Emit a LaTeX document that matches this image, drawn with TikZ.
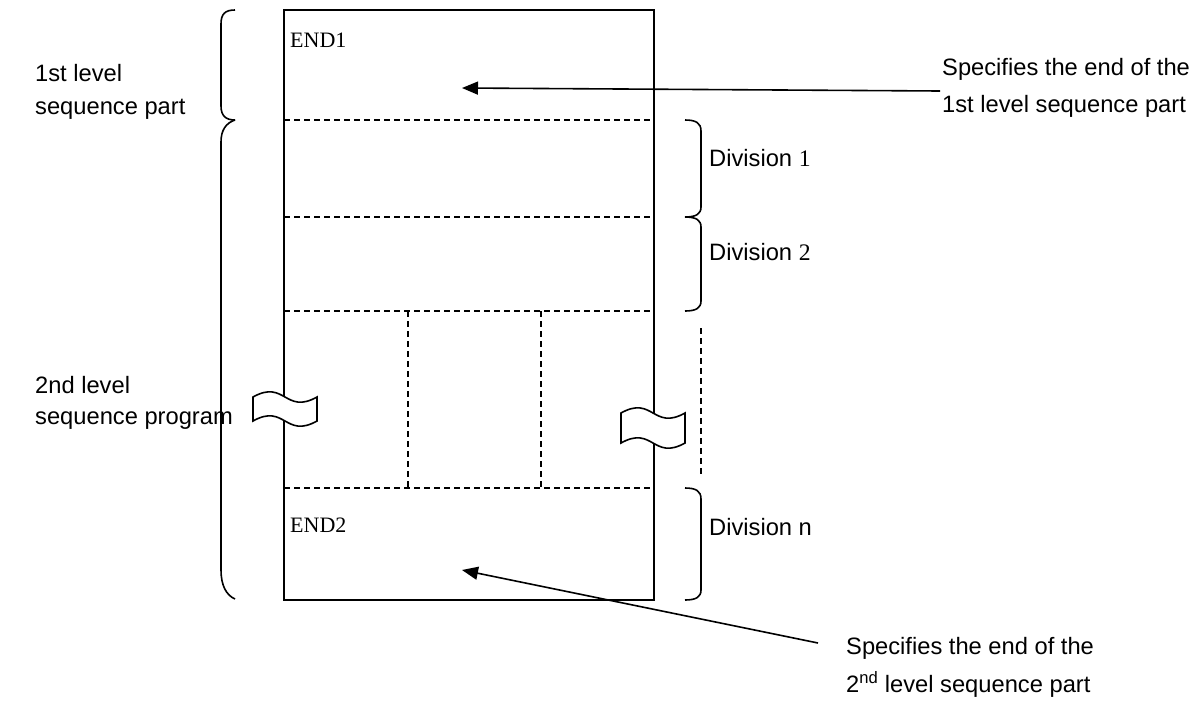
\documentclass[tikz,border=0pt]{standalone}
\usepackage{fontspec}
\setmainfont{Liberation Sans}
\newfontfamily\tms{Liberation Serif}
\usetikzlibrary{arrows.meta}
\begin{document}
\begin{tikzpicture}[x=1pt,y=-1pt,
  box/.style={line width=1.8pt},
  dsh/.style={line width=1.3pt,dash pattern=on 6pt off 4pt},
  brc/.style={line width=1.6pt},
  lbl/.style={anchor=west,inner sep=0pt,font=\fontsize{23.7}{28}\selectfont},
  slbl/.style={anchor=west,inner sep=0pt,font=\fontsize{22}{26}\tms},
  arr/.style={line width=1.6pt,-{Triangle[length=16pt,width=13pt]}},
  brk/.style={line width=1.6pt,fill=white}]
\useasboundingbox (0,0) rectangle (1196,702);
% main box
\coordinate (TL) at (284,10);
\coordinate (BR) at (654,600);
\draw[box] (TL) rectangle (BR);
% dashed division lines
\draw[dsh] (284,120) -- (654,120);
\draw[dsh] (284,217) -- (654,217);
\draw[dsh] (284,311) -- (654,311);
\draw[dsh] (284,488) -- (654,488);
\draw[dsh] (408,311) -- (408,488);
\draw[dsh] (541,311) -- (541,488);
\draw[dsh] (701,328) -- (701,475);
% break symbols
\draw[brk] (253,397) .. controls (285,379) and (285,415) .. (317,397) -- (317,421)
  .. controls (285,439) and (285,403) .. (253,421) -- cycle;
\draw[brk] (621,413) .. controls (653,395) and (653,431) .. (685,413) -- (685,443)
  .. controls (653,461) and (653,425) .. (621,443) -- cycle;
% left braces
\draw[brc] (235,10) .. controls (225,10) and (221,14) .. (221,24) -- (221,106)
  .. controls (221,116) and (226,120) .. (235,120);
\draw[brc] (235,120) .. controls (226,123) and (221,130) .. (221,142) -- (221,570)
  .. controls (221,585) and (226,595) .. (235,599);
% right braces
\draw[brc] (685,120) .. controls (696,120) and (701,123) .. (701,131) -- (701,207)
  .. controls (701,214) and (696,217) .. (685,217);
\draw[brc] (685,217) .. controls (696,217) and (701,220) .. (701,227) -- (701,301)
  .. controls (701,308) and (696,311) .. (685,311);
\draw[brc] (685,488) .. controls (696,488) and (701,491) .. (701,499) -- (701,590)
  .. controls (701,597) and (696,600) .. (685,600);
% texts
\node[slbl] (end1) at (290,40) {END1};
\node[slbl] (end2) at (290,525) {END2};
\node[lbl] (l1a) at (35,73) {1st level};
\node[lbl] (l1b) at (35,109) {sequence part};
\node[lbl] (l2a) at (35,385) {2nd level};
\node[lbl] (l2b) at (35,421) {sequence program};
\node[lbl] (d1) at (709,158) {Division {\tms 1}};
\node[lbl] (d2) at (709,252) {Division {\tms 2}};
\node[lbl] (dn) at (709,527) {Division n};
\node[lbl] (s1a) at (942,69) {Specifies the end of the};
\node[lbl] (s1b) at (942,106) {1st level sequence part};
\node[lbl] (s2a) at (846,648) {Specifies the end of the};
\node[lbl] (s2b) at (846,684) {2\textsuperscript{nd} level sequence part};
% arrows
\coordinate (a1t) at (940,91);
\coordinate (a1h) at (462,88);
\draw[arr] (a1t) -- (a1h);
\coordinate (a2t) at (818,643);
\coordinate (a2h) at (462,570);
\draw[arr] (a2t) -- (a2h);
\end{tikzpicture}
\end{document}
